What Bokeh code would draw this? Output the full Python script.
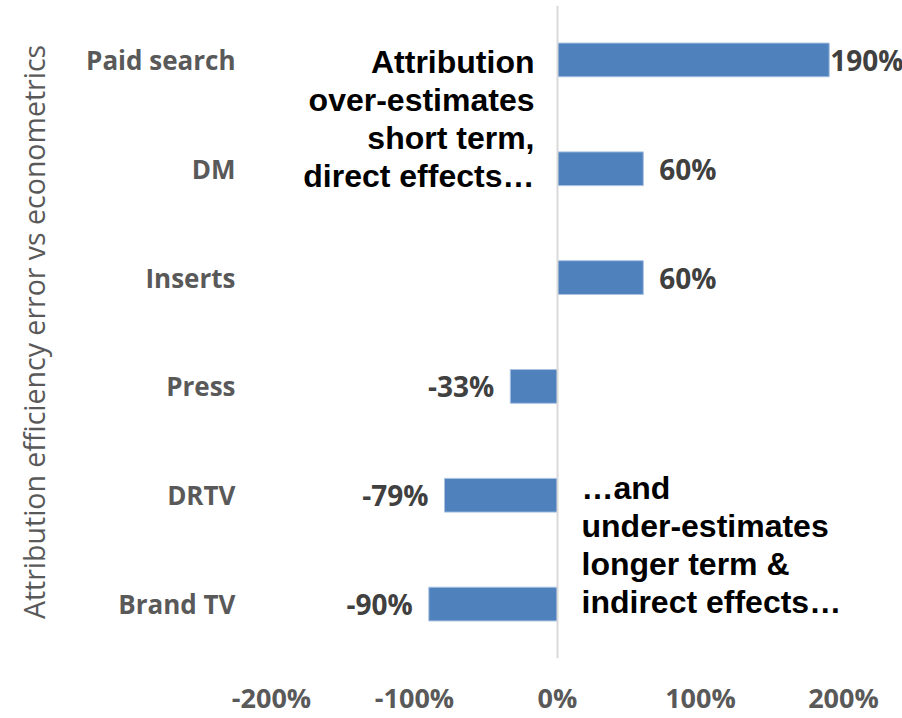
from bokeh.plotting import figure
from bokeh.models import FactorRange, Range1d, Span, FixedTicker, ColumnDataSource
from bokeh.core.properties import value
from bokeh.embed import file_html
from bokeh.resources import INLINE

categories = ["Paid search", "DM", "Inserts", "Press", "DRTV", "Brand TV"]
values = [190, 60, 60, -33, -79, -90]
x_ticks = [-200, -100, 0, 100, 200]
y_title = "Attribution efficiency error vs econometrics"
note_over = ["Attribution", "over-estimates", "short term,", "direct effects…"]
note_under = ["…and", "under-estimates", "longer term &", "indirect effects…"]

GREY = "#595959"
BLUE = "#4f81bd"

p = figure(width=902, height=718,
           y_range=FactorRange(factors=categories[::-1], range_padding=0),
           x_range=Range1d(-200, 241.26),
           output_backend="svg", toolbar_location=None,
           min_border_left=271, min_border_right=0,
           min_border_top=5, min_border_bottom=53)
p.outline_line_color = None
p.xgrid.visible = False
p.ygrid.visible = False
p.background_fill_color = "white"
p.border_fill_color = "white"

# x axis
p.xaxis.ticker = FixedTicker(ticks=x_ticks, minor_ticks=[])
p.xaxis.major_label_overrides = {t: f"{t}%" for t in x_ticks}
p.xaxis.axis_line_color = None
p.xaxis.major_tick_line_color = None
p.xaxis.minor_tick_line_color = None
p.xaxis.major_tick_out = 0
p.xaxis.major_tick_in = 0
p.xaxis.major_label_standoff = 20
p.xaxis.major_label_text_font = "Open Sans"
p.xaxis.major_label_text_font_style = "bold"
p.xaxis.major_label_text_font_size = "27px"
p.xaxis.major_label_text_color = GREY

# y axis
p.yaxis.axis_line_color = None
p.yaxis.major_tick_line_color = None
p.yaxis.minor_tick_line_color = None
p.yaxis.major_tick_out = 0
p.yaxis.major_tick_in = 0
p.yaxis.major_label_standoff = 36
p.yaxis.major_label_text_font = "Open Sans"
p.yaxis.major_label_text_font_style = "bold"
p.yaxis.major_label_text_font_size = "26px"
p.yaxis.major_label_text_color = GREY
p.yaxis.axis_label = y_title
p.yaxis.axis_label_text_font = "Open Sans"
p.yaxis.axis_label_text_font_style = "normal"
p.yaxis.axis_label_text_font_size = "28.5px"
p.yaxis.axis_label_text_color = GREY
p.yaxis.axis_label_standoff = 30

# zero line
p.add_layout(Span(location=0, dimension="height", line_color="#d9d9d9", line_width=2))

src = ColumnDataSource(dict(cat=categories, val=values))
p.hbar(y="cat", left=0, right="val", height=0.31, source=src,
       fill_color=BLUE, line_color="#a9c1e0", line_width=1)

pos = [i for i, v in enumerate(values) if v >= 0]
neg = [i for i, v in enumerate(values) if v < 0]
pos_src = ColumnDataSource(dict(cat=[categories[i] for i in pos],
                                val=[values[i] for i in pos],
                                lbl=[f"{values[i]}%" for i in pos],
                                off=[1 if values[i] > 150 else 16 for i in pos]))
neg_src = ColumnDataSource(dict(cat=[categories[i] for i in neg],
                                val=[values[i] for i in neg],
                                lbl=[f"{values[i]}%" for i in neg]))
p.text(x="val", y="cat", text="lbl", x_offset="off", source=pos_src,
       text_align="left", text_baseline="middle",
       text_font=value("Open Sans"), text_font_style="bold",
       text_font_size="28px", text_color="#404040")
p.text(x="val", y="cat", text="lbl", x_offset=-16, source=neg_src,
       text_align="right", text_baseline="middle",
       text_font=value("Open Sans"), text_font_style="bold",
       text_font_size="28px", text_color="#404040")

# annotations
step = 0.349
over_top = 5.478
under_top = 1.567
p.text(x=[-16.1] * len(note_over),
       y=[over_top - i * step for i in range(len(note_over))],
       text=note_over, text_align="right", text_baseline="alphabetic",
       text_font=value("Liberation Sans"), text_font_style="bold",
       text_font_size="32px", text_color="black")
p.text(x=[16.8] * len(note_under),
       y=[under_top - i * step for i in range(len(note_under))],
       text=note_under, text_align="left", text_baseline="alphabetic",
       text_font=value("Liberation Sans"), text_font_style="bold",
       text_font_size="32px", text_color="black")

open("out.html", "w").write(file_html(p, INLINE))
